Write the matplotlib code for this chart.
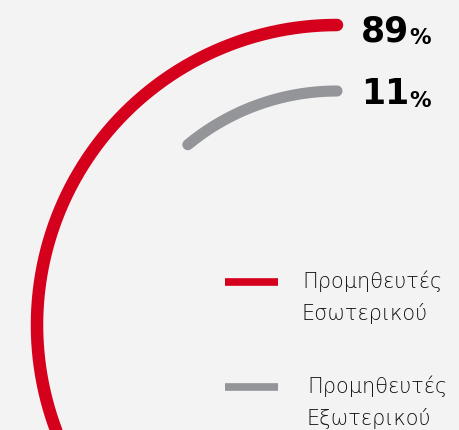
import numpy as np
import matplotlib.pyplot as plt

# share of suppliers (%)
labels = [["Προμηθευτές", "Εσωτερικού"], ["Προμηθευτές", "Εξωτερικού"]]
values = [89, 11]
colors = ["#d5001c", "#939598"]

W, H = 460, 431
fig = plt.figure(figsize=(W / 100, H / 100), dpi=100)
fig.patch.set_facecolor("#f3f3f3")
ax = fig.add_axes([0, 0, 1, 1])
ax.set_xlim(0, W)
ax.set_ylim(0, H)
ax.set_aspect("equal")
ax.axis("off")

cx, cy = 337, 105
radii = [300, 234]
widths = [9.0, 8.0]
base_off = [15, 12]

for v, r, c, lw, bo in zip(values, radii, colors, widths, base_off):
    theta = np.radians(np.linspace(90, 90 + v / 100 * 360, 400))
    ax.plot(cx + r * np.cos(theta), cy + r * np.sin(theta), color=c, lw=lw,
            solid_capstyle="round")
    # value label next to the arc start, with a smaller percent sign
    num = ax.text(361, cy + r - bo, f"{v}", fontsize=25, fontweight="bold",
                  family="DejaVu Sans", color="black",
                  ha="left", va="baseline")
    ax.annotate("%", xy=(1, 0), xycoords=num, xytext=(0.3, 0),
                textcoords="offset points", fontsize=15.5, fontweight="bold",
                family="DejaVu Sans", color="black",
                ha="left", va="bottom")

# legend
leg_y = [H - 283, H - 388]
text_x = [302, 307]
for lab, c, y, tx in zip(labels, colors, leg_y, text_x):
    ax.plot([225, 278], [y, y], color=c, lw=5.5, solid_capstyle="butt")
    for k, line in enumerate(lab):
        ax.text(tx, y - 5 - 32 * k, line, fontsize=15, fontweight=200,
                family="DejaVu Sans", color="#111111",
                ha="left", va="baseline")

fig.savefig("out.png", dpi=100, facecolor=fig.get_facecolor())
